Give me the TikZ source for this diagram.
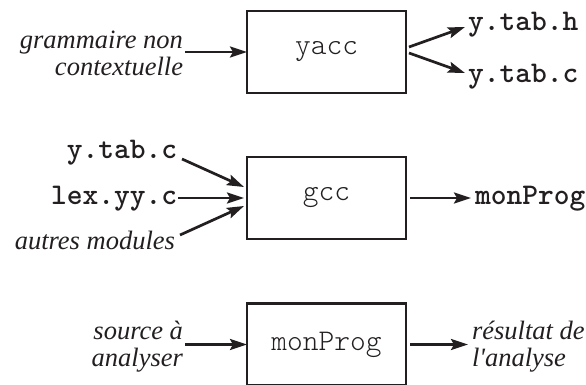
\documentclass[tikz,border=0pt]{standalone}
\usepackage{fontspec}
\setmainfont{Liberation Serif}
\newfontfamily\cour{Latin Modern Mono Light}
\usetikzlibrary{arrows.meta}
\definecolor{ink}{HTML}{231F20}
\tikzset{
  proc/.style={draw=ink, line width=2.7pt, minimum width=159pt, minimum height=82pt,
    inner sep=0pt, outer sep=0pt, text=ink, font=\fontsize{30}{30}\selectfont\cour},
  lab/.style={inner sep=0pt, outer sep=0pt, text=ink, font=\fontsize{26.5}{27}\selectfont\itshape},
  file/.style={inner sep=0pt, outer sep=0pt, text=ink, font=\fontsize{30}{30}\selectfont\cour\bfseries},
  flow/.style={draw=ink, line width=2.7pt, -{Stealth[length=17pt, width=11pt, inset=3pt]}},
}
\begin{document}
\begin{tikzpicture}[x=1pt, y=-1pt]
\useasboundingbox (0,0) rectangle (586,385);
% boxes
\node[proc] (yacc) at (326.5,52) {yacc};
\node[proc] (gcc) at (326.5,198) {gcc};
\node[proc] (prog) at (326.5,344.5) {monProg};
% texts
\node[lab, align=right, anchor=east] (gram) at (183,53) {grammaire non\\contextuelle};
\node[file, anchor=base west] (ytabh) at (468,31) {y.tab.h};
\node[file, anchor=base west] (ytabc) at (468,83) {y.tab.c};
\node[file, anchor=base east] (ytabcin) at (177,158) {y.tab.c};
\node[file, anchor=base east] (lexyy) at (177,204) {lex.yy.c};
\node[lab, anchor=base east] (autres) at (175,249) {autres modules};
\node[file, anchor=base west] (monprog) at (475,204) {monProg};
\node[lab, align=right, anchor=east] (src) at (183,346.5) {source à\\analyser};
\node[lab, align=left, anchor=west] (res) at (472,346.5) {résultat de\\l\textquotesingle analyse};
% connectors
\draw[flow, shorten <=2pt] (gram.east |- yacc.west) -- (yacc.west);
\draw[flow] ([xshift=3pt,yshift=5pt]yacc.east) -- ([xshift=-3pt,yshift=4pt]ytabh.base west);
\draw[flow] ([xshift=3pt,yshift=-1pt]yacc.east) -- ([xshift=-3pt,yshift=10pt]ytabc.base west);
\draw[flow] ([xshift=5pt,yshift=-1pt]ytabcin.base east) -- ([xshift=-3pt,yshift=11pt]gcc.west);
\draw[flow, shorten <=1pt] (lexyy.east |- gcc.west) -- ([xshift=-3pt]gcc.west);
\draw[flow] ([xshift=5pt,yshift=14pt]autres.base east) -- ([xshift=-3pt,yshift=-8pt]gcc.west);
\draw[flow] ([xshift=4pt]gcc.east) -- ([xshift=-4pt]monprog.base west |- gcc.east);
\draw[flow, shorten <=2pt] (src.east |- prog.west) -- (prog.west);
\draw[flow] ([xshift=4pt]prog.east) -- ([xshift=-4pt]res.west |- prog.east);
\end{tikzpicture}
\end{document}
